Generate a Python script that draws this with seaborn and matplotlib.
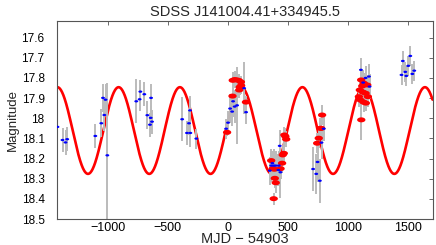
import numpy as np
import pandas as pd
import matplotlib
matplotlib.use("Agg")
import matplotlib.pyplot as plt
from matplotlib.path import Path
from matplotlib.ticker import FormatStrFormatter
import seaborn as sns

# blue points (MJD - 54903, magnitude, error)
blue_t = [-1417, -1375, -1350, -1336, -1102, -1052, -1038, -1027, -1017, -1002,
          -761, -733, -727, -694, -669, -638, -641, -630, -647,
          -379, -339, -311, -322, -314, -261,
          -13, 3, 20, 37, 45, 58, 78, 137, 153,
          350, 362, 372, 383, 400, 422, 425, 433, 439,
          711, 737, 748, 767, 781, 800,
          1109, 1128, 1148, 1176, 1181,
          1447, 1458, 1478, 1487, 1503, 1520, 1537, 1553]
blue_mag = [18.043, 18.108, 18.12, 18.104, 18.088, 18.025, 17.899, 17.984, 17.908, 18.184,
            17.916, 17.906, 17.868, 17.881, 17.985, 17.899, 17.998, 18.017, 18.032,
            18.005, 18.073, 18.073, 18.025, 17.961, 18.101,
            18.052, 18.022, 17.952, 17.967, 17.916, 17.942, 17.936, 17.851, 17.97,
            18.26, 18.235, 18.223, 18.235, 18.235, 18.257, 18.235, 18.137, 18.268,
            18.252, 18.276, 18.217, 18.31, 18.121, 18.052,
            17.76, 17.823, 17.80, 17.793, 17.843,
            17.785, 17.716, 17.77, 17.79, 17.74, 17.691, 17.78, 17.764]
blue_err = [0.05, 0.06, 0.06, 0.06, 0.06, 0.07, 0.07, 0.08, 0.08, 0.36,
            0.11, 0.06, 0.06, 0.06, 0.07, 0.07, 0.06, 0.06, 0.06,
            0.11, 0.06, 0.07, 0.06, 0.07, 0.05,
            0.05, 0.06, 0.07, 0.07, 0.08, 0.08, 0.19, 0.13, 0.06,
            0.07, 0.08, 0.06, 0.08, 0.07, 0.08, 0.07, 0.08, 0.13,
            0.11, 0.10, 0.10, 0.11, 0.08, 0.06,
            0.06, 0.06, 0.06, 0.06, 0.06,
            0.05, 0.05, 0.05, 0.05, 0.05, 0.05, 0.05, 0.05]

# red points
red_t = [-5, 40, 42, 58, 75, 92, 110, 100, 112, 96, 152,
         362, 375, 389, 392, 400, 383, 440, 453, 458, 467, 472, 487, 480,
         745, 758, 772, 778, 786,
         1092, 1100, 1106, 1111, 1112, 1120, 1133, 1131, 1148, 1150, 1162, 1167, 1125]
red_mag = [18.07, 17.89, 17.812, 17.808, 17.81, 17.812, 17.82, 17.845, 17.838, 17.86, 17.92,
           18.21, 18.25, 18.253, 18.298, 18.32, 18.399, 18.25, 18.223, 18.182, 18.174, 18.083, 18.104, 18.09,
           18.124, 18.099, 18.05, 18.05, 17.984,
           17.893, 17.86, 17.91, 17.81, 18.008, 17.84, 17.826, 17.92, 17.876, 17.925, 17.835, 17.893, 17.87]
red_err = [0.02, 0.03, 0.04, 0.04, 0.04, 0.03, 0.03, 0.04, 0.04, 0.04, 0.03,
           0.04, 0.05, 0.05, 0.05, 0.05, 0.03, 0.05, 0.05, 0.05, 0.05, 0.04, 0.04, 0.04,
           0.05, 0.05, 0.05, 0.05, 0.05,
           0.05, 0.05, 0.05, 0.05, 0.10, 0.05, 0.05, 0.05, 0.05, 0.04, 0.05, 0.05, 0.05]

# sinusoidal model
period = 510.0
t_peak = 112.0
mag_mean = 18.061
amplitude = 0.215

x_lim = (-1420, 1705)
y_lim = (18.5, 17.518)

blue = pd.DataFrame({"t": blue_t, "mag": blue_mag, "err": blue_err})
red = pd.DataFrame({"t": red_t, "mag": red_mag, "err": red_err})
t_model = np.linspace(x_lim[0], x_lim[1], 1500)
model = pd.DataFrame({"t": t_model,
                      "mag": mag_mean - amplitude * np.cos(2 * np.pi * (t_model - t_peak) / period)})

sns.set_style("white")
plt.rcParams["font.family"] = ["Liberation Sans", "DejaVu Sans"]

# horizontal ellipse marker
th = np.linspace(0, 2 * np.pi, 40)
ellipse = Path(np.column_stack([np.cos(th), 0.6 * np.sin(th)]), closed=True)

fig = plt.figure(figsize=(4.36, 2.45), dpi=100)
ax = fig.add_axes([0.131, 0.106, 0.861, 0.808])

sns.lineplot(data=model, x="t", y="mag", color="red", linewidth=1.9, ax=ax, zorder=1, sort=False)
ax.errorbar(red["t"], red["mag"], yerr=red["err"], fmt="none", ecolor="#bbbbbb", elinewidth=1.4, zorder=2)
ax.errorbar(blue["t"], blue["mag"], yerr=blue["err"], fmt="none", ecolor="#bbbbbb", elinewidth=1.4, zorder=2)
sns.scatterplot(data=red, x="t", y="mag", color="red", marker=ellipse, s=36,
                edgecolor="none", ax=ax, zorder=3)
sns.scatterplot(data=blue, x="t", y="mag", color="blue", marker=ellipse, s=8,
                edgecolor="none", ax=ax, zorder=4)

ax.set_xlim(*x_lim)
ax.set_ylim(*y_lim)
ax.set_xticks([-1000, -500, 0, 500, 1000, 1500])
ax.set_yticks([17.6, 17.7, 17.8, 17.9, 18.0, 18.1, 18.2, 18.3, 18.4, 18.5])
ax.yaxis.set_major_formatter(FormatStrFormatter("%g"))
ax.tick_params(direction="in", length=3, width=0.6, color="#555555",
               top=True, right=True, labelcolor="black")
ax.tick_params(axis="x", labelsize=9, pad=2)
ax.tick_params(axis="y", labelsize=8.5, pad=9)
for sp in ax.spines.values():
    sp.set_color("#555555")
    sp.set_linewidth(0.8)

ax.set_xlabel("MJD \u2212 54903", fontsize=10.5, labelpad=-1)
ax.set_ylabel("Magnitude", fontsize=9.5, labelpad=2,
              family=["Liberation Sans Narrow", "Liberation Sans", "DejaVu Sans"])
ax.set_title("SDSS J141004.41+334945.5", fontsize=10.5, pad=4)

fig.savefig("out.png", dpi=100)
